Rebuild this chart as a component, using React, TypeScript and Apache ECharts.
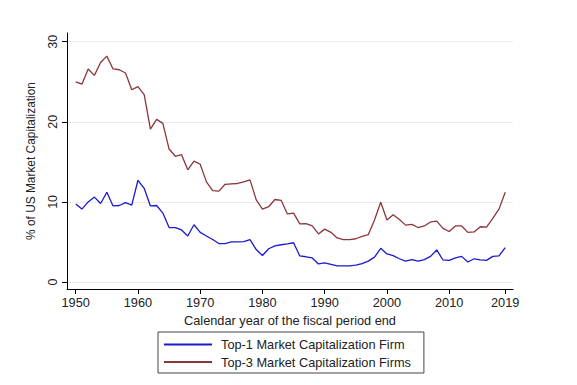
import React, { useEffect, useRef } from "react";
import * as echarts from "echarts";

const startYear = 1950;
const endYear = 2019;
const years: number[] = Array.from({ length: endYear - startYear + 1 }, (_, i) => startYear + i);

const top1: number[] = [
  9.75, 9.1, 10.0, 10.6, 9.8, 11.2, 9.5, 9.55, 9.9, 9.6,
  12.7, 11.7, 9.5, 9.55, 8.6, 6.8, 6.8, 6.5, 5.75, 7.15,
  6.2, 5.75, 5.3, 4.8, 4.8, 5.0, 5.0, 5.05, 5.3, 4.05,
  3.3, 4.15, 4.5, 4.65, 4.75, 4.9, 3.25, 3.15, 3.0, 2.25,
  2.4, 2.2, 2.0, 2.0, 2.0, 2.1, 2.3, 2.6, 3.1, 4.2,
  3.5, 3.3, 2.9, 2.6, 2.8, 2.6, 2.8, 3.2, 4.0, 2.75,
  2.7, 3.0, 3.2, 2.5, 2.9, 2.75, 2.7, 3.2, 3.25, 4.3,
];

const top3: number[] = [
  25.0, 24.7, 26.6, 25.8, 27.4, 28.2, 26.6, 26.5, 26.1, 24.0,
  24.4, 23.4, 19.1, 20.3, 19.8, 16.6, 15.7, 15.9, 14.0, 15.1,
  14.7, 12.5, 11.4, 11.35, 12.2, 12.25, 12.3, 12.5, 12.75, 10.25,
  9.1, 9.4, 10.3, 10.2, 8.5, 8.6, 7.25, 7.3, 7.0, 6.0,
  6.6, 6.2, 5.5, 5.3, 5.3, 5.4, 5.7, 5.9, 7.75, 9.95,
  7.75, 8.4, 7.8, 7.1, 7.2, 6.8, 7.0, 7.5, 7.6, 6.7,
  6.3, 7.0, 7.0, 6.2, 6.25, 6.9, 6.85, 7.95, 9.1, 11.2,
];

const xTicks: number[] = [1950, 1960, 1970, 1980, 1990, 2000, 2010, 2019];
const yTicks: number[] = [0, 10, 20, 30];

const seriesNames = ["Top-1 Market Capitalization Firm", "Top-3 Market Capitalization Firms"];
const xTitle = "Calendar year of the fiscal period end";
const yTitle = "% of US Market Capitalization";

const FONT = "'Liberation Sans', Arial, sans-serif";
const FS = 12.75;

export default function App() {
  const ref = useRef<HTMLDivElement>(null);
  useEffect(() => {
    if (!ref.current) return;
    const chart = echarts.init(ref.current, null, { renderer: "svg" });
    chart.setOption({
      animation: false,
      backgroundColor: "#ffffff",
      textStyle: { fontFamily: FONT },
      grid: { left: 67, right: 64, top: 33, bottom: 96, containLabel: false },
      xAxis: {
        type: "value",
        min: 1948.6,
        max: 2020.25,
        name: xTitle,
        nameLocation: "middle",
        nameGap: 21,
        nameTextStyle: { fontFamily: FONT, fontSize: FS, color: "#222" },
        axisLine: { show: true, onZero: false, lineStyle: { color: "#000", width: 1 } },
        axisTick: { show: true, length: 5, lineStyle: { color: "#000" }, customValues: xTicks },
        axisLabel: { fontFamily: FONT, fontSize: FS, color: "#222", margin: 7, customValues: xTicks, formatter: (v: number) => String(v) },
        splitLine: { show: false },
      },
      yAxis: {
        type: "value",
        min: -0.875,
        max: 31.09,
        name: yTitle,
        nameLocation: "middle",
        nameGap: 30,
        nameRotate: 90,
        nameTextStyle: { fontFamily: FONT, fontSize: 11.9, color: "#222" },
        axisLine: { show: true, onZero: false, lineStyle: { color: "#000", width: 1 } },
        axisTick: { show: true, length: 5, lineStyle: { color: "#000" }, customValues: yTicks },
        axisLabel: { fontFamily: FONT, fontSize: 12.5, color: "#222", margin: 8, rotate: 90, customValues: yTicks },
        splitLine: { show: true, lineStyle: { color: "#ececec", width: 1 } },
      },
      legend: {
        orient: "vertical",
        left: 158,
        top: 332,
        itemWidth: 48,
        itemHeight: 14,
        itemGap: 3.4,
        padding: [5.6, 13, 4, 5],
        borderColor: "#444",
        borderWidth: 1,
        borderRadius: 0,
        itemStyle: { opacity: 0 },
        textStyle: { fontFamily: FONT, fontSize: FS, lineHeight: 14, color: "#222", padding: [0, 0, 0, 4] },
        data: seriesNames,
      },
      series: [
        {
          name: seriesNames[0],
          type: "line",
          symbol: "none",
          data: years.map((y, i) => [y, top1[i]]),
          lineStyle: { color: "#1a1ad0", width: 1.3 },
          itemStyle: { color: "#1a1ad0" },
        },
        {
          name: seriesNames[1],
          type: "line",
          symbol: "none",
          data: years.map((y, i) => [y, top3[i]]),
          lineStyle: { color: "#8c363c", width: 1.3 },
          itemStyle: { color: "#8c363c" },
        },
      ],
    });
    return () => chart.dispose();
  }, []);
  return <div ref={ref} style={{ width: 577, height: 385, position: "absolute", left: 0, top: 0 }} />;
}
